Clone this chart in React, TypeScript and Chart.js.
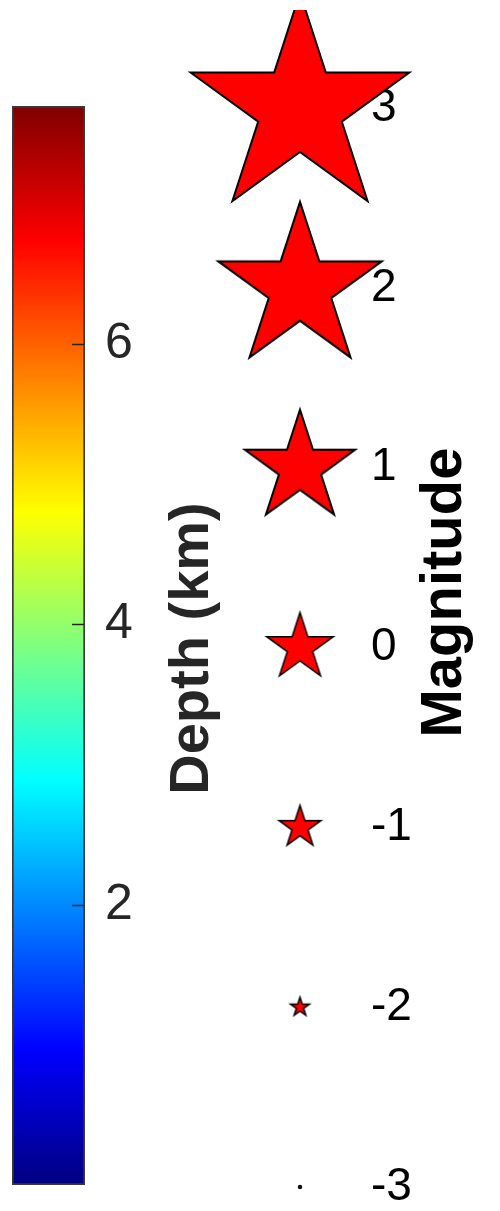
import React, { useEffect, useRef } from "react";
import { Chart, registerables } from "chart.js";

Chart.register(...registerables);

// ---- data ----
const depthRange = [0, 7.7];
const depthTicks = [2, 4, 6];
const magnitudes = [3, 2, 1, 0, -1, -2, -3];
const magnitudeTicks = [-3, -2, -1, 0, 1, 2, 3];
const depthTitle = "Depth (km)";
const magnitudeTitle = "Magnitude";

// ---- style ----
const FONT = '"Liberation Sans", Arial, Helvetica, sans-serif';
const STAR_RADIUS: Record<string, number> = {
  "3": 115, "2": 86, "1": 58, "0": 35, "-1": 22, "-2": 10, "-3": 3,
};
const JET_STOPS: [number, string][] = [
  [0, "rgb(0,0,128)"],
  [0.125, "rgb(0,0,255)"],
  [0.375, "rgb(0,255,255)"],
  [0.625, "rgb(255,255,0)"],
  [0.875, "rgb(255,0,0)"],
  [1, "rgb(128,0,0)"],
];

const starCache: Record<string, HTMLCanvasElement> = {};
function starCanvas(m: number): HTMLCanvasElement {
  const key = String(m);
  if (starCache[key]) return starCache[key];
  const R = STAR_RADIUS[key] ?? 5;
  const lw = R > 40 ? 2 : R > 5 ? 1.5 : 1;
  const pad = 3 * lw + 2;
  const size = Math.ceil(2 * R + 2 * pad);
  const c = document.createElement("canvas");
  c.width = size;
  c.height = size;
  const g = c.getContext("2d")!;
  const cx = size / 2;
  const cy = size / 2;
  if (R <= 4) {
    g.beginPath();
    g.arc(cx, cy, R * 0.75, 0, Math.PI * 2);
    g.fillStyle = "#111";
    g.fill();
    starCache[key] = c;
    return c;
  }
  const r = R * 0.381966;
  g.beginPath();
  for (let i = 0; i < 10; i++) {
    const ang = -Math.PI / 2 + (i * Math.PI) / 5;
    const rad = i % 2 === 0 ? R : r;
    const x = cx + rad * Math.cos(ang);
    const y = cy + rad * Math.sin(ang);
    if (i === 0) g.moveTo(x, y);
    else g.lineTo(x, y);
  }
  g.closePath();
  g.fillStyle = "#ff0000";
  g.fill();
  g.lineWidth = lw;
  g.strokeStyle = "#000";
  g.lineJoin = "miter";
  g.stroke();
  starCache[key] = c;
  return c;
}

function rotatedTitle(text: string, color: string, dx: number, dy: number, size: number) {
  return {
    id: "rotTitle",
    afterDraw(chart: any) {
      const { ctx, chartArea } = chart;
      ctx.save();
      ctx.translate(chartArea.right + dx, (chartArea.top + chartArea.bottom) / 2 + dy);
      ctx.rotate(-Math.PI / 2);
      ctx.textAlign = "center";
      ctx.textBaseline = "middle";
      ctx.fillStyle = color;
      ctx.font = `bold ${size}px ${FONT}`;
      ctx.fillText(text, 0, 0);
      ctx.restore();
    },
  };
}

const colorbarTicks = {
  id: "cbTicks",
  afterDatasetsDraw(chart: any) {
    const { ctx, chartArea } = chart;
    const y = chart.scales.y;
    ctx.save();
    ctx.strokeStyle = "#262626";
    ctx.lineWidth = 1.5;
    y.ticks.forEach((t: any) => {
      const py = Math.round(y.getPixelForValue(t.value)) + 0.5;
      ctx.beginPath();
      ctx.moveTo(chartArea.right - 13, py);
      ctx.lineTo(chartArea.right - 1, py);
      ctx.stroke();
    });
    ctx.restore();
  },
};

export default function App() {
  const cbRef = useRef<HTMLCanvasElement>(null);
  const stRef = useRef<HTMLCanvasElement>(null);

  useEffect(() => {
    const cb = new Chart(cbRef.current!, {
      type: "bar",
      data: {
        labels: [""],
        datasets: [
          {
            data: [[depthRange[0], depthRange[1]]] as any,
            backgroundColor: (ctx: any) => {
              const chart = ctx.chart;
              if (!chart.chartArea) return "blue";
              const ys = chart.scales.y;
              const g = chart.ctx.createLinearGradient(
                0,
                ys.getPixelForValue(depthRange[0]),
                0,
                ys.getPixelForValue(depthRange[1])
              );
              JET_STOPS.forEach(([s, c]) => g.addColorStop(s, c));
              return g;
            },
            borderColor: "#3a3a3a",
            borderWidth: 2,
            borderSkipped: false,
            barPercentage: 1,
            categoryPercentage: 1,
          } as any,
        ],
      },
      options: {
        animation: false,
        responsive: false,
        events: [],
        layout: { padding: { left: 12, top: 106, bottom: 26, right: 0 } },
        plugins: { legend: { display: false }, tooltip: { enabled: false } },
        scales: {
          x: { display: false, offset: true },
          y: {
            position: "right",
            min: depthRange[0],
            max: depthRange[1],
            afterBuildTicks: (s: any) => {
              s.ticks = depthTicks.map((v) => ({ value: v }));
            },
            afterFit: (s: any) => {
              s.width = 155;
              s.paddingTop = 0;
              s.paddingBottom = 0;
            },
            ticks: {
              color: "#262626",
              padding: 12,
              font: { family: FONT, size: 50 },
            },
            grid: { display: false },
            border: { display: false },
          },
        },
      },
      plugins: [colorbarTicks, rotatedTitle(depthTitle, "#262626", 108, 3, 56)],
    });

    const st = new Chart(stRef.current!, {
      type: "scatter",
      data: {
        datasets: [
          {
            data: magnitudes.map((m) => ({ x: 0, y: m })),
            pointStyle: (ctx: any) => starCanvas(ctx.raw ? ctx.raw.y : 0),
            clip: { left: 300, right: 300, top: 98, bottom: 30 },
          } as any,
        ],
      },
      options: {
        animation: false,
        responsive: false,
        events: [],
        layout: { padding: { left: 240, top: 108, bottom: 24, right: 0 } },
        plugins: { legend: { display: false }, tooltip: { enabled: false } },
        scales: {
          x: { type: "linear", min: -1, max: 1, display: false },
          y: {
            position: "right",
            min: -3,
            max: 3,
            afterBuildTicks: (s: any) => {
              s.ticks = magnitudeTicks.map((v) => ({ value: v }));
            },
            afterFit: (s: any) => {
              s.width = 140;
              s.paddingTop = 0;
              s.paddingBottom = 0;
            },
            ticks: {
              color: "#000",
              padding: 3,
              font: { family: FONT, size: 46 },
            },
            grid: { display: false },
            border: { display: false },
          },
        },
      },
      plugins: [rotatedTitle(magnitudeTitle, "#000", 85, -55, 58)],
    });

    return () => {
      cb.destroy();
      st.destroy();
    };
  }, []);

  return (
    <div style={{ position: "absolute", left: 0, top: 0, width: 500, height: 1211, background: "#fff" }}>
      <canvas ref={cbRef} width={240} height={1211} style={{ position: "absolute", left: 0, top: 0 }} />
      <canvas ref={stRef} width={500} height={1211} style={{ position: "absolute", left: 0, top: 0 }} />
    </div>
  );
}
